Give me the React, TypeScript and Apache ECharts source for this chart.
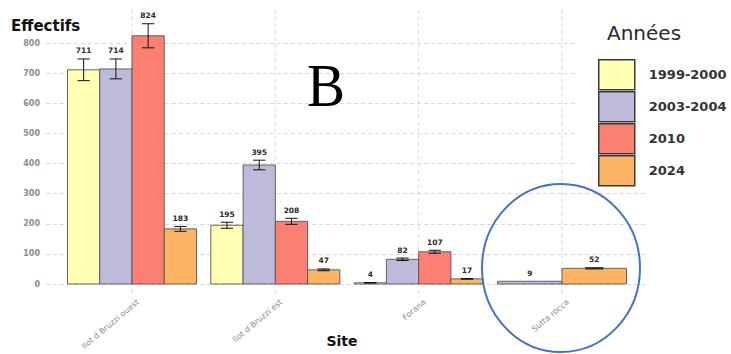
import React, { useEffect, useRef } from "react";
import * as echarts from "echarts";

// Sites along the x axis
const categories = ["Ilot d Bruzzi ouest", "Ilot d Bruzzi est", "Forana", "Sutta rocca"];
// Survey periods (legend)
const years = ["1999-2000", "2003-2004", "2010", "2024"];
const yearColors = ["#FFFFB3", "#BEBADA", "#FB8072", "#FDB462"];

// Mean counts per site, one array per period (null = not surveyed)
const values1999 = [711, 195, 4, null];
const values2003 = [714, 395, 82, 9];
const values2010 = [824, 208, 107, null];
const values2024 = [183, 47, 17, 52];

// Error bar half-widths per site
const errors1999 = [36, 10, 1, null];
const errors2003 = [33, 16, 4, 0];
const errors2010 = [40, 10, 5, null];
const errors2024 = [8, 3, 1, 2];

const yTicks = [0, 100, 200, 300, 400, 500, 600, 700, 800];

const FONT = "DejaVu Sans";

export default function App() {
  const ref = useRef<HTMLDivElement>(null);

  useEffect(() => {
    if (!ref.current) return;
    const chart = echarts.init(ref.current, null, { renderer: "svg" });

    const allValues = [values1999, values2003, values2010, values2024];
    const allErrors = [errors1999, errors2003, errors2010, errors2024];

    // slot of each period inside a site's group, and number of bars in the group
    const groupInfo = categories.map((_, ci) => {
      const present = years.map((_, yi) => allValues[yi][ci] != null);
      const count = present.filter(Boolean).length;
      const slots: number[] = [];
      let k = 0;
      present.forEach((p, yi) => {
        slots[yi] = p ? k++ : -1;
      });
      return { count, slots };
    });

    const barSeries = years.map((name, yi) => ({
      type: "custom",
      name,
      z: 3,
      itemStyle: { color: yearColors[yi] },
      data: categories
        .map((_, ci) => {
          const v = allValues[yi][ci];
          if (v == null) return null;
          const e = allErrors[yi][ci] ?? 0;
          return [ci, v, e, groupInfo[ci].slots[yi], groupInfo[ci].count];
        })
        .filter((d) => d != null),
      renderItem: (params: any, api: any) => {
        const cat = api.value(0);
        const v = api.value(1);
        const e = api.value(2);
        const slot = api.value(3);
        const n = api.value(4);
        const groupW = 0.9;
        const w = groupW / n;
        const x0 = cat - groupW / 2 + slot * w;
        const p0 = api.coord([x0, 0]);
        const p1 = api.coord([x0 + w, v]);
        const cx = (p0[0] + p1[0]) / 2;
        const barPx = p1[0] - p0[0];
        const children: any[] = [
          {
            type: "rect",
            shape: { x: p0[0], y: p1[1], width: barPx, height: p0[1] - p1[1] },
            style: { fill: yearColors[params.seriesIndex - 1], stroke: "#555", lineWidth: 0.9 },
          },
        ];
        let topY = p1[1];
        if (e > 0) {
          const hi = api.coord([cat, v + e])[1];
          const lo = api.coord([cat, v - e])[1];
          const cap = barPx * (n === 4 ? 0.19 : 0.14);
          topY = hi;
          const es = { stroke: "#111", lineWidth: 1 };
          children.push(
            { type: "line", shape: { x1: cx, y1: hi, x2: cx, y2: lo }, style: es },
            { type: "line", shape: { x1: cx - cap, y1: hi, x2: cx + cap, y2: hi }, style: es },
            { type: "line", shape: { x1: cx - cap, y1: lo, x2: cx + cap, y2: lo }, style: es }
          );
        }
        children.push({
          type: "text",
          x: cx,
          y: topY - 8,
          style: {
            text: String(v),
            align: "center",
            verticalAlign: "middle",
            fontFamily: FONT,
            fontWeight: "bold",
            fontSize: 7.5,
            fill: "#2b2b2b",
          },
        });
        return { type: "group", children };
      },
    }));

    // vertical dashed grid lines at each site, plus the rotated site names
    const siteSeries = {
      type: "custom",
      name: "sites",
      z: 1,
      silent: true,
      data: categories.map((_, i) => [i]),
      renderItem: (params: any, api: any) => {
        const i = api.value(0);
        const top = api.coord([i, 912]);
        const bottom = api.coord([i, -42]);
        const base = api.coord([i, 0]);
        return {
          type: "group",
          children: [
            {
              type: "line",
              shape: { x1: top[0], y1: top[1], x2: bottom[0], y2: bottom[1] },
              style: { stroke: "#d9d9d9", lineWidth: 1, lineDash: [4, 3] },
            },
            {
              type: "text",
              x: base[0] + 6,
              y: base[1] + 17,
              rotation: (40 * Math.PI) / 180,
              style: {
                text: categories[i],
                align: "right",
                verticalAlign: "middle",
                fontFamily: FONT,
                fontSize: 8,
                fill: "#8c8c8c",
              },
            },
          ],
        };
      },
    };

    chart.setOption({
      animation: false,
      grid: { left: 46, right: 83, top: 43, bottom: 70 },
      xAxis: {
        type: "value",
        min: -0.6,
        max: 3.6,
        axisLine: { show: false },
        axisTick: { show: false },
        axisLabel: { show: false },
        splitLine: { show: false },
      },
      yAxis: {
        type: "value",
        min: yTicks[0],
        max: yTicks[yTicks.length - 1],
        interval: 100,
        axisLine: { show: false },
        axisTick: { show: false },
        axisLabel: {
          margin: 6,
          fontFamily: FONT,
          fontSize: 8,
          fontWeight: "bold",
          color: "#8c8c8c",
        },
        splitLine: { show: true, lineStyle: { color: "#d9d9d9", width: 1, type: [4, 3] } },
      },
      legend: {
        data: years,
        orient: "vertical",
        left: 598,
        top: 59,
        padding: 0,
        itemWidth: 36,
        itemHeight: 30,
        itemGap: 0.5,
        icon: "rect",
        itemStyle: { borderColor: "#3a3a3a", borderWidth: 1.5 },
        selectedMode: false,
        textStyle: {
          fontFamily: FONT,
          fontWeight: "bold",
          fontSize: 13,
          color: "#333",
          padding: [0, 0, 0, 9],
        },
        z: 6,
      },
      graphic: [
        {
          type: "rect",
          z: 4,
          silent: true,
          shape: { x: 578, y: 0, width: 153, height: 188 },
          style: { fill: "#ffffff" },
        },
        {
          type: "text",
          z: 6,
          x: 607,
          y: 33,
          style: {
            text: "Années",
            align: "left",
            verticalAlign: "middle",
            fontFamily: FONT,
            fontSize: 20,
            fill: "#2a2a2a",
          },
        },
        {
          type: "text",
          z: 6,
          x: 11,
          y: 25.5,
          style: {
            text: "Effectifs",
            align: "left",
            verticalAlign: "middle",
            fontFamily: FONT,
            fontWeight: "bold",
            fontSize: 15,
            fill: "#111",
          },
        },
        {
          type: "text",
          z: 6,
          x: 342,
          y: 340.5,
          style: {
            text: "Site",
            align: "center",
            verticalAlign: "middle",
            fontFamily: FONT,
            fontWeight: "bold",
            fontSize: 14,
            fill: "#111",
          },
        },
        {
          type: "text",
          z: 6,
          x: 307,
          y: 85,
          scaleX: 0.92,
          style: {
            text: "B",
            align: "left",
            verticalAlign: "middle",
            fontFamily: "Liberation Serif",
            fontSize: 62,
            fill: "#000",
          },
        },
        {
          type: "ellipse",
          z: 10,
          silent: true,
          shape: { cx: 561, cy: 268, rx: 79, ry: 84 },
          style: { fill: "none", stroke: "#4472C4", lineWidth: 2 },
        },
      ],
      series: [siteSeries, ...barSeries],
    });

    return () => chart.dispose();
  }, []);

  return (
    <div
      ref={ref}
      style={{ position: "fixed", left: 0, top: 0, width: 731, height: 354, background: "#fff" }}
    />
  );
}
